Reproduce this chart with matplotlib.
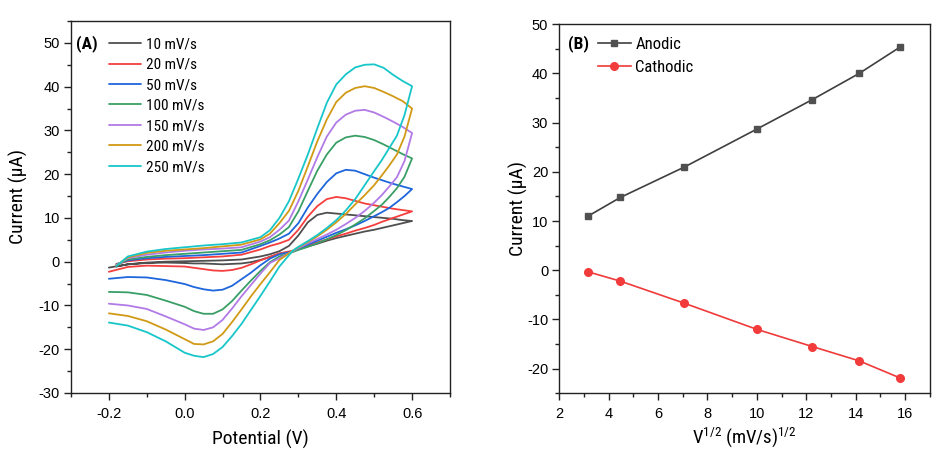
import matplotlib
matplotlib.use("Agg")
import matplotlib.pyplot as plt
from matplotlib.ticker import MultipleLocator

plt.rcParams['font.family'] = ['Liberation Sans', 'DejaVu Sans']
plt.rcParams['mathtext.fontset'] = 'custom'
plt.rcParams['mathtext.rm'] = 'Roboto Condensed'
plt.rcParams['mathtext.it'] = 'Roboto Condensed:italic'
narrow = ['Roboto Condensed', 'Liberation Sans Narrow', 'Liberation Sans', 'DejaVu Sans']

# ---------------- Panel A data: cyclic voltammograms ----------------
scan_labels = ['10 mV/s', '20 mV/s', '50 mV/s', '100 mV/s', '150 mV/s', '200 mV/s', '250 mV/s']
colors_a = ['#4f4f4f', '#f53e3e', '#1f66dc', '#3a9f66', '#b27ae6', '#d19a16', '#17c6c9']

fwd_V = [-0.18, -0.15, -0.1, -0.05, 0.0, 0.05, 0.1, 0.15, 0.2, 0.225, 0.25, 0.275, 0.3,
         0.325, 0.35, 0.375, 0.4, 0.425, 0.45, 0.475, 0.5, 0.525, 0.55, 0.575, 0.6]
rev_V = [0.6, 0.58, 0.56, 0.54, 0.52, 0.5, 0.475, 0.45, 0.425, 0.4, 0.375, 0.35, 0.325, 0.3,
         0.285, 0.25, 0.225, 0.2, 0.175, 0.15, 0.125, 0.1, 0.075, 0.05, 0.025, 0.0,
         -0.05, -0.1, -0.15, -0.2]

fwd_10 = [-1.1, -0.6, -0.2, 0.0, 0.1, 0.2, 0.3, 0.5, 1.2, 1.7, 2.4, 3.6, 6.0,
          9.0, 10.7, 11.2, 11.0, 10.8, 10.6, 10.4, 10.2, 10.0, 9.8, 9.5, 9.3]
rev_10 = [9.3, 8.9, 8.5, 8.1, 7.7, 7.3, 6.9, 6.4, 5.9, 5.4, 4.8, 4.1, 3.5, 2.8,
          2.4, 1.8, 1.1, 0.4, -0.1, -0.4, -0.5, -0.6, -0.5, -0.4, -0.4, -0.3,
          -0.2, -0.3, -0.6, -1.35]

fwd_20 = [-0.5, 0.1, 0.5, 0.7, 0.8, 1.0, 1.2, 1.6, 2.8, 3.6, 4.2, 5.0, 7.3,
          10.3, 12.7, 14.3, 14.8, 14.5, 13.9, 13.3, 12.9, 12.5, 12.1, 11.8, 11.5]
rev_20 = [11.5, 10.9, 10.3, 9.7, 9.1, 8.4, 7.7, 7.1, 6.4, 5.8, 5.1, 4.4, 3.7, 2.9,
          2.5, 1.9, 1.1, 0.3, -0.6, -1.4, -1.9, -2.1, -2.0, -1.7, -1.4, -1.1,
          -1.0, -0.9, -1.2, -2.3]

fwd_50 = [-0.6, 0.3, 0.8, 1.1, 1.3, 1.5, 1.8, 2.1, 3.6, 4.4, 5.3, 6.4, 8.8,
          12.4, 15.5, 18.2, 20.2, 21.0, 20.8, 20.0, 19.2, 18.5, 17.8, 17.2, 16.6]
rev_50 = [16.6, 15.0, 13.6, 12.3, 11.3, 10.4, 9.3, 8.3, 7.4, 6.6, 5.7, 4.8, 3.9, 2.9,
          2.3, 1.7, 0.7, -0.8, -2.5, -4.0, -5.5, -6.4, -6.6, -6.3, -5.8, -5.1,
          -4.2, -3.6, -3.5, -3.9]

fwd_100 = [-0.7, 0.5, 1.1, 1.5, 1.8, 2.1, 2.4, 2.7, 4.0, 4.9, 6.2, 7.9, 11.5,
           16.2, 20.8, 24.5, 27.2, 28.4, 28.8, 28.5, 27.8, 26.8, 25.7, 24.6, 23.6]
rev_100 = [23.6, 19.4, 16.8, 14.8, 13.0, 11.6, 9.9, 8.5, 7.2, 6.1, 5.1, 4.2, 3.4, 2.7,
           2.2, 1.2, -0.1, -2.1, -4.3, -6.6, -9.0, -10.9, -11.9, -11.9, -11.3, -10.3,
           -8.9, -7.6, -7.0, -6.9]

fwd_150 = [-0.8, 0.8, 1.6, 2.1, 2.5, 2.8, 3.0, 3.3, 4.6, 5.6, 7.3, 9.4, 13.8,
           18.8, 23.9, 28.6, 31.8, 33.6, 34.5, 34.7, 34.1, 33.1, 32.0, 30.8, 29.4]
rev_150 = [29.4, 23.0, 19.3, 17.2, 15.2, 13.5, 11.6, 10.0, 8.6, 7.3, 6.2, 5.2, 4.2, 3.1,
           2.4, 0.8, -0.3, -2.7, -5.3, -7.9, -10.7, -13.3, -15.0, -15.6, -15.3, -14.3,
           -12.5, -10.8, -10.0, -9.6]

fwd_200 = [-0.9, 1.0, 2.0, 2.5, 2.8, 3.1, 3.5, 3.9, 5.1, 6.4, 8.8, 11.6, 16.2,
           21.8, 27.5, 32.5, 36.5, 38.6, 39.7, 40.1, 39.7, 38.8, 37.8, 36.7, 35.0]
rev_200 = [35.0, 28.6, 24.5, 22.0, 19.7, 17.5, 15.2, 13.1, 10.9, 9.0, 7.3, 5.8, 4.5, 3.3,
           2.5, 0.4, -2.4, -5.1, -7.9, -10.9, -13.8, -16.5, -18.2, -18.9, -18.8, -17.7,
           -15.5, -13.6, -12.4, -11.8]

fwd_250 = [-1.0, 1.2, 2.3, 2.9, 3.3, 3.7, 4.0, 4.4, 5.6, 7.2, 10.0, 13.8, 19.0,
           24.5, 30.5, 36.3, 40.5, 42.8, 44.4, 45.0, 45.1, 44.3, 42.7, 41.3, 40.1]
rev_250 = [40.1, 33.5, 28.8, 26.0, 23.2, 20.7, 17.5, 14.3, 11.7, 9.5, 7.7, 6.1, 4.7, 3.4,
           2.5, -1.1, -4.5, -7.8, -11.0, -14.2, -17.0, -19.5, -21.1, -21.8, -21.5, -20.8,
           -18.2, -16.1, -14.6, -13.9]

fwd_all = [fwd_10, fwd_20, fwd_50, fwd_100, fwd_150, fwd_200, fwd_250]
rev_all = [rev_10, rev_20, rev_50, rev_100, rev_150, rev_200, rev_250]

# ---------------- Panel B data: peak currents vs sqrt(scan rate) ----------------
sqrt_rate = [3.16, 4.47, 7.07, 10.0, 12.25, 14.14, 15.81]
anodic = [11.0, 14.8, 21.0, 28.7, 34.7, 40.0, 45.4]
cathodic = [-0.3, -2.2, -6.7, -12.0, -15.5, -18.4, -21.9]

fig = plt.figure(figsize=(9.4, 4.5), dpi=100)
axA = fig.add_axes([0.0755, 0.1267, 0.4032, 0.8266])
axB = fig.add_axes([0.595, 0.126, 0.394, 0.820])

tick_fs = 10.5
label_fs = 14

for I_f, I_r, c, lab in zip(fwd_all, rev_all, colors_a, scan_labels):
    axA.plot(fwd_V + rev_V, I_f + I_r, color=c, lw=1.3, label=lab,
             solid_joinstyle='round', solid_capstyle='round')

axA.set_xlim(-0.3, 0.7)
axA.set_ylim(-30, 55)
axA.xaxis.set_minor_locator(MultipleLocator(0.1))
axA.yaxis.set_minor_locator(MultipleLocator(5))
axA.set_xticks([-0.2, 0.0, 0.2, 0.4, 0.6])
axA.set_xticklabels(['-0.2', '0.0', '0.2', '0.4', '0.6'])
axA.set_yticks([-30, -20, -10, 0, 10, 20, 30, 40, 50])
axA.set_yticklabels(['-30', '-20', '-10', '0', '10', '20', '30', '40', '50'])
axA.set_xlabel('Potential (V)', fontsize=label_fs, family=narrow)
axA.set_ylabel('Current (μA)', fontsize=label_fs, family=narrow)
axA.xaxis.set_label_coords(0.5, -0.1)
axA.yaxis.set_label_coords(-0.113, 0.527)
axA.legend(loc='upper left', bbox_to_anchor=(0.1, 0.9556), frameon=False,
           prop={'family': narrow, 'size': 11}, handlelength=2.1, handletextpad=0.3,
           labelspacing=0.42, borderpad=0, borderaxespad=0)
axA.text(0.012, 0.94, '(A)', transform=axA.transAxes, fontsize=12.5, fontweight='bold',
         ha='left', va='center', family=narrow)

axB.plot(sqrt_rate, anodic, color='#3f3f3f', lw=1.2, marker='s', markersize=5,
         markerfacecolor='#505050', markeredgecolor='#505050', label='Anodic')
axB.plot(sqrt_rate, cathodic, color='#f03a3a', lw=1.2, marker='o', markersize=5.5,
         markerfacecolor='#f23c3c', markeredgecolor='#f23c3c', label='Cathodic')
axB.set_xlim(2, 17)
axB.set_ylim(-25, 50)
axB.set_xticks([2, 4, 6, 8, 10, 12, 14, 16])
axB.set_xticklabels(['2', '4', '6', '8', '10', '12', '14', '16'])
axB.xaxis.set_minor_locator(MultipleLocator(1))
axB.yaxis.set_minor_locator(MultipleLocator(5))
axB.set_yticks([-20, -10, 0, 10, 20, 30, 40, 50])
axB.set_yticklabels(['-20', '-10', '0', '10', '20', '30', '40', '50'])
axB.set_xlabel('V$^{1/2}$ (mV/s)$^{1/2}$', fontsize=label_fs - 0.5, family=narrow)
axB.set_ylabel('Current (μA)', fontsize=label_fs, family=narrow)
axB.xaxis.set_label_coords(0.5, -0.087)
axB.yaxis.set_label_coords(-0.084, 0.5)
axB.legend(loc='upper left', bbox_to_anchor=(0.104, 0.966), frameon=False,
           prop={'family': narrow, 'size': 12}, handlelength=2.0, handletextpad=0.25,
           labelspacing=0.5, borderpad=0, borderaxespad=0)
axB.text(0.024, 0.948, '(B)', transform=axB.transAxes, fontsize=12.5, fontweight='bold',
         ha='left', va='center', family=narrow)

for ax in (axA, axB):
    for sp in ax.spines.values():
        sp.set_linewidth(1.0)
        sp.set_color('#222222')
    ax.tick_params(which='both', direction='out', top=False, right=False,
                   labelsize=tick_fs, color='#222222')
    ax.tick_params(which='major', length=5, width=1.0)
    ax.tick_params(which='minor', length=3, width=1.0)
    ax.tick_params(axis='x', which='major', pad=5)
    ax.tick_params(axis='y', which='major', pad=3)

fig.savefig('out.png', dpi=100)
